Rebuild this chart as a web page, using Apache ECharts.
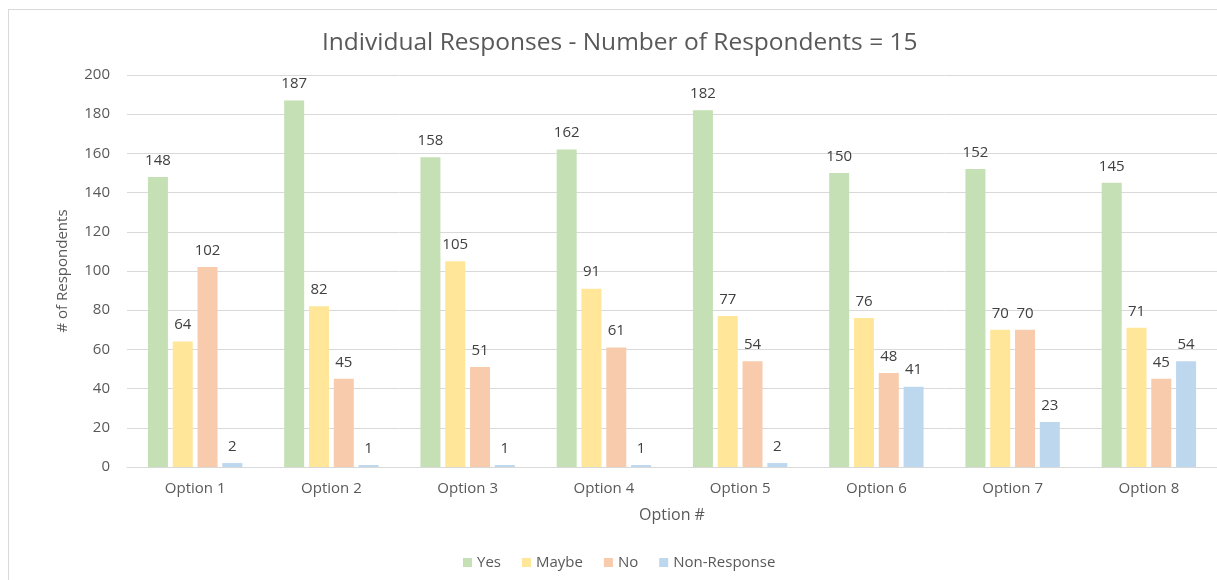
<!DOCTYPE html>
<html>
<head>
<meta charset="utf-8">
<script src="https://cdn.jsdelivr.net/npm/echarts@6/dist/echarts.min.js"></script>
<style>
html,body{margin:0;padding:0;background:#fff;overflow:hidden;}
#frame{position:absolute;left:8px;top:9px;width:1300px;height:700px;border:1px solid #d9d9d9;box-sizing:border-box;}
#chart{position:absolute;left:0;top:0;width:1217px;height:580px;}
</style>
</head>
<body>
<div id="frame"></div>
<div id="chart"></div>
<script>
const categories = ['Option 1','Option 2','Option 3','Option 4','Option 5','Option 6','Option 7','Option 8'];
const yesValues = [148,187,158,162,182,150,152,145];
const maybeValues = [64,82,105,91,77,76,70,71];
const noValues = [102,45,51,61,54,48,70,45];
const nonResponseValues = [2,1,1,1,2,41,23,54];
const seriesNames = ['Yes','Maybe','No','Non-Response'];
const colors = ['#C5E0B4','#FFE699','#F8CBAD','#BDD7EE'];
const FONT = '"Open Sans", sans-serif';

const chart = echarts.init(document.getElementById('chart'));
const mk = (name, data, color) => ({
  name, type:'bar', data, barWidth:20, barGap:'24%',
  itemStyle:{color},
  label:{show:true, position:'top', distance:9, color:'#404040', fontSize:15, fontFamily:FONT}
});
chart.setOption({
  animation:false,
  title:{text:'Individual Responses - Number of Respondents = 15', left:317, top:26,
    textStyle:{fontSize:24.5, fontWeight:'normal', color:'#595959', fontFamily:FONT}},
  legend:{top:550, left:458, itemWidth:9, itemHeight:9, itemGap:21, icon:'rect',
    textStyle:{color:'#595959', fontSize:15, fontFamily:FONT}},
  grid:{left:127, right:0, top:75, bottom:113},
  xAxis:{type:'category', data:categories, name:'Option #', nameLocation:'middle', nameGap:40,
    nameTextStyle:{color:'#595959', fontSize:16, fontFamily:FONT},
    axisLine:{lineStyle:{color:'#d9d9d9'}}, axisTick:{show:false},
    axisLabel:{color:'#595959', fontSize:15, fontFamily:FONT, margin:14}},
  yAxis:{type:'value', min:0, max:200, interval:20, name:'# of Respondents', nameLocation:'middle', nameGap:57,
    nameTextStyle:{color:'#595959', fontSize:15, fontFamily:FONT},
    axisLine:{show:false}, axisTick:{show:false},
    splitLine:{lineStyle:{color:'#d9d9d9'}},
    axisLabel:{color:'#595959', fontSize:15, fontFamily:FONT, margin:17}},
  series:[mk(seriesNames[0],yesValues,colors[0]),mk(seriesNames[1],maybeValues,colors[1]),
          mk(seriesNames[2],noValues,colors[2]),mk(seriesNames[3],nonResponseValues,colors[3])]
});
</script>
</body>
</html>
